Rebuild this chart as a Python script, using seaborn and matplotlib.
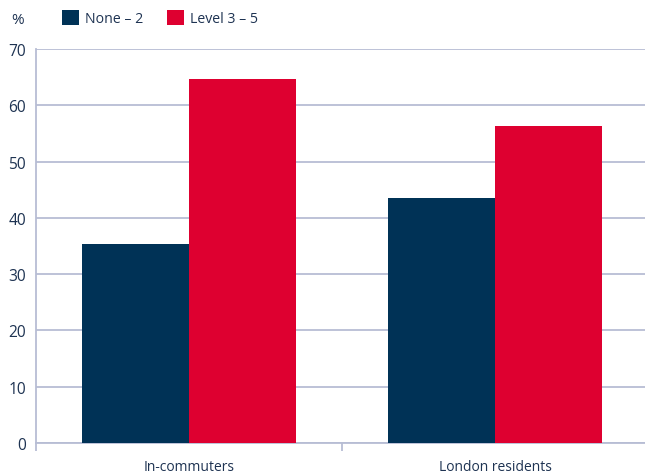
import matplotlib
matplotlib.use("Agg")
import matplotlib.pyplot as plt
from matplotlib.patches import Patch
from matplotlib.ticker import FixedLocator
import seaborn as sns
import pandas as pd

# Share of workers by qualification level
groups = ["In-commuters", "London residents"]
levels = ["None – 2", "Level 3 – 5"]
none_to_2 = [35.3, 43.6]
level_3_to_5 = [64.7, 56.4]
y_ticks = [0, 10, 20, 30, 40, 50, 60, 70]

navy = "#003256"
red = "#DE0030"
grid_col = "#b7bdd4"
text_col = "#1e3352"

df = pd.DataFrame({
    "group": groups * 2,
    "level": [levels[0]] * len(groups) + [levels[1]] * len(groups),
    "value": none_to_2 + level_3_to_5,
})

sns.set_theme(style="white")
plt.rcParams["font.family"] = ["Open Sans", "DejaVu Sans"]

fig = plt.figure(figsize=(6.45, 4.77), dpi=100)
ax = fig.add_axes([36 / 645, 33 / 477, 612 / 645, 394 / 477])

sns.barplot(data=df, x="group", y="value", hue="level", order=groups,
            hue_order=levels, palette=[navy, red], width=0.7, saturation=1,
            legend=False, linewidth=0, edgecolor="none", ax=ax, zorder=3)

ax.set_xlim(-0.5, 1.5)
ax.set_ylim(0, 70)
ax.set_yticks(y_ticks)
ax.set_xlabel("")
ax.set_ylabel("")

ax.grid(axis="y", color=grid_col, linewidth=1.3, zorder=0)
ax.grid(axis="x", visible=False)
for side in ["top", "right"]:
    ax.spines[side].set_visible(False)
for side in ["left", "bottom"]:
    ax.spines[side].set_color(grid_col)
    ax.spines[side].set_linewidth(1.3)

ax.tick_params(axis="y", length=0, pad=7, labelsize=11.2, labelcolor=text_col)
ax.tick_params(axis="x", which="major", length=0, pad=11.5, labelsize=10,
               labelcolor=text_col)
ax.xaxis.set_minor_locator(FixedLocator([-0.5, 0.5, 1.5]))
ax.tick_params(axis="x", which="minor", length=6, width=1.3, color=grid_col,
               bottom=True)

fig.text(18 / 645, 1 - 20 / 477, "%", ha="center", va="center",
         fontsize=11, color=text_col)

handles = [Patch(facecolor=navy, edgecolor="none"),
           Patch(facecolor=red, edgecolor="none")]
leg = fig.legend(handles, levels, loc="upper left",
                 bbox_to_anchor=(62 / 645, 1 - 11 / 477), ncol=2, frameon=False,
                 fontsize=10.2, handlelength=1.22, handleheight=1.22,
                 handletextpad=0.42, columnspacing=1.65, borderpad=0,
                 borderaxespad=0)
for t in leg.get_texts():
    t.set_color(text_col)

fig.savefig("out.png", dpi=100)
